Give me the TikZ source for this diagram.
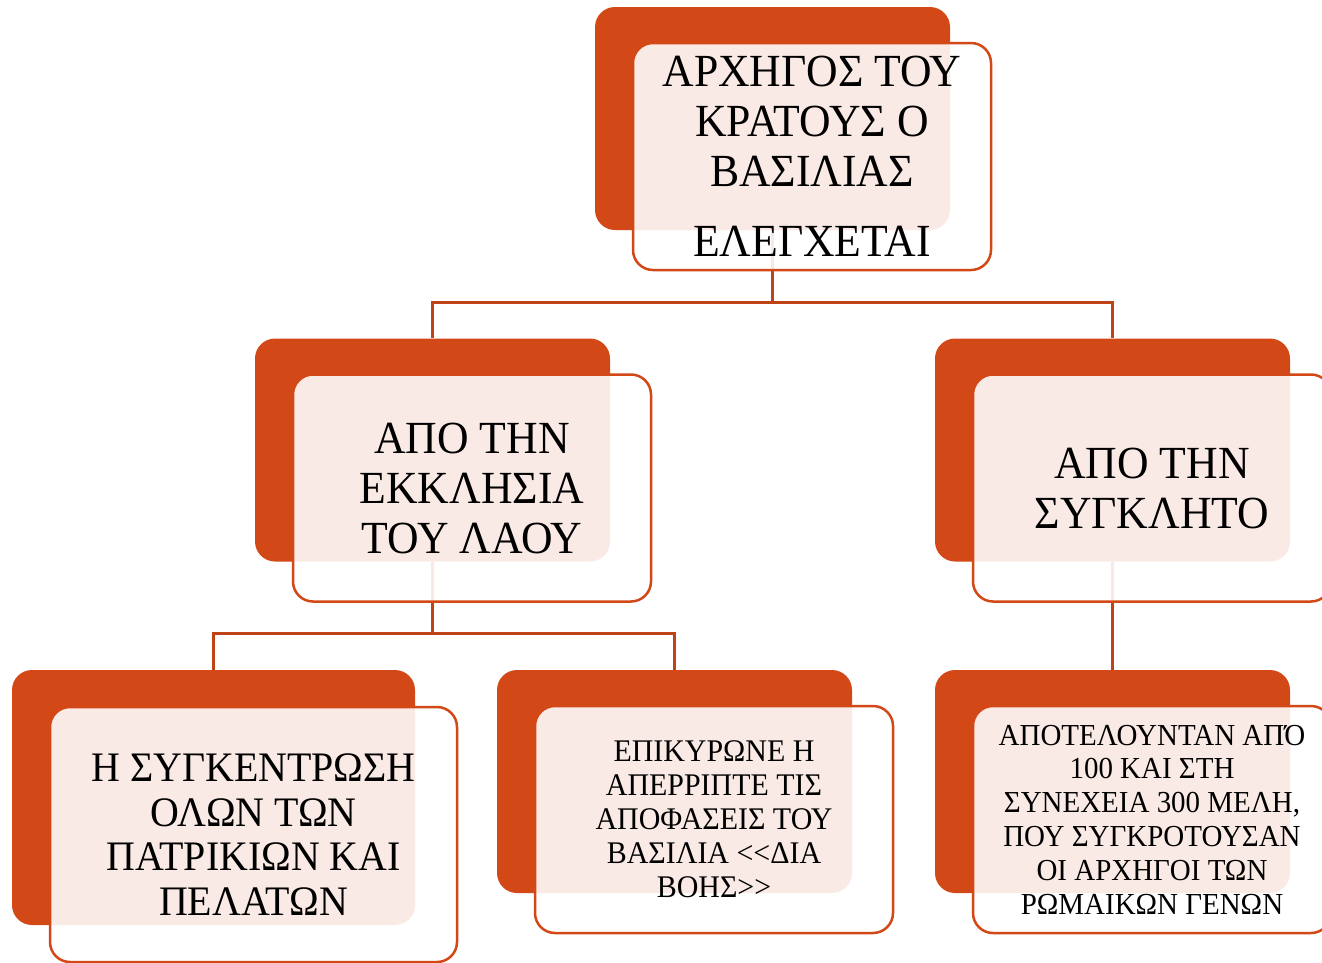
\documentclass[tikz,border=0pt]{standalone}
\usepackage{fontspec}
\setmainfont[FakeStretch=0.95]{Liberation Serif}
\usepackage{tikz}
\usetikzlibrary{positioning}
\definecolor{boxorange}{HTML}{D34817}
\definecolor{lineorange}{HTML}{BE4418}

\begin{document}
\begin{tikzpicture}[x=1pt,y=-1pt,
    back/.style={fill=boxorange, rounded corners=20pt, inner sep=0pt, minimum width=355pt, minimum height=223pt},
    front/.style={draw=boxorange, line width=2.5pt, fill=white, fill opacity=0.89, text opacity=1, rounded corners=20pt, inner sep=0pt, align=center, minimum width=358pt, minimum height=227pt},
    link/.style={draw=lineorange, line width=3pt}]
            \useasboundingbox (0,0) rectangle (1322,962);

            % back boxes
            \node[back] (king) at (772.5,118.5) {};
            \node[back] (ekk) at (432.5,450) {};
            \node[back] (syn) at (1112.5,450) {};
            \node[back, minimum width=403pt, minimum height=255pt] (gath) at (213.5,797.5) {};
            \node[back] (vote) at (674.5,781.5) {};
            \node[back] (memb) at (1112.5,781.5) {};

            % connectors
            \draw[link] (king.south) -- ++(0,72) -| (ekk.north);
            \draw[link] (king.south) -- ++(0,72) -| (syn.north);
            \draw[link] (ekk.south) -- ++(0,72) -| (gath.north);
            \draw[link] (ekk.south) -- ++(0,72) -| (vote.north);
            \draw[link] (syn.south) -- (memb.north);

            % front boxes
            \node[front, font=\fontsize{46}{50}\selectfont] (kingt) at ([xshift=39.5pt,yshift=-38pt] king.center)
                {ΑΡΧΗΓΟΣ ΤΟΥ\\ΚΡΑΤΟΥΣ Ο\\ΒΑΣΙΛΙΑΣ\\[20pt]ΕΛΕΓΧΕΤΑΙ};
            \node[front, font=\fontsize{46}{50}\selectfont] (ekkt) at ([xshift=39.5pt,yshift=-38pt] ekk.center)
                {ΑΠΟ ΤΗΝ\\ΕΚΚΛΗΣΙΑ\\ΤΟΥ ΛΑΟΥ};
            \node[front, font=\fontsize{46}{50}\selectfont] (synt) at ([xshift=39.5pt,yshift=-38pt] syn.center)
                {ΑΠΟ ΤΗΝ\\ΣΥΓΚΛΗΤΟ};
            \node[front, font=\fontsize{42}{44.5}\selectfont, minimum width=407pt, minimum height=255pt] (gatht) at ([xshift=40pt,yshift=-37pt] gath.center)
                {Η ΣΥΓΚΕΝΤΡΩΣΗ\\ΟΛΩΝ ΤΩΝ\\ΠΑΤΡΙΚΙΩΝ ΚΑΙ\\ΠΕΛΑΤΩΝ};
            \node[front, font=\fontsize{31.5}{34}\selectfont] (votet) at ([xshift=39.5pt,yshift=-38pt] vote.center)
                {ΕΠΙΚΥΡΩΝΕ Η\\ΑΠΕΡΡΙΠΤΕ ΤΙΣ\\ΑΠΟΦΑΣΕΙΣ ΤΟΥ\\ΒΑΣΙΛΙΑ {<}{<}ΔΙΑ\\ΒΟΗΣ{>}{>}};
            \node[front, font=\fontsize{30.5}{33.8}\selectfont] (membt) at ([xshift=39.5pt,yshift=-38pt] memb.center)
                {ΑΠΟΤΕΛΟΥΝΤΑΝ ΑΠΌ\\100 ΚΑΙ ΣΤΗ\\ΣΥΝΕΧΕΙΑ 300 ΜΕΛΗ,\\ΠΟΥ ΣΥΓΚΡΟΤΟΥΣΑΝ\\ΟΙ ΑΡΧΗΓΟΙ ΤΩΝ\\ΡΩΜΑΙΚΩΝ ΓΕΝΩΝ};
        \end{tikzpicture}
\end{document}
